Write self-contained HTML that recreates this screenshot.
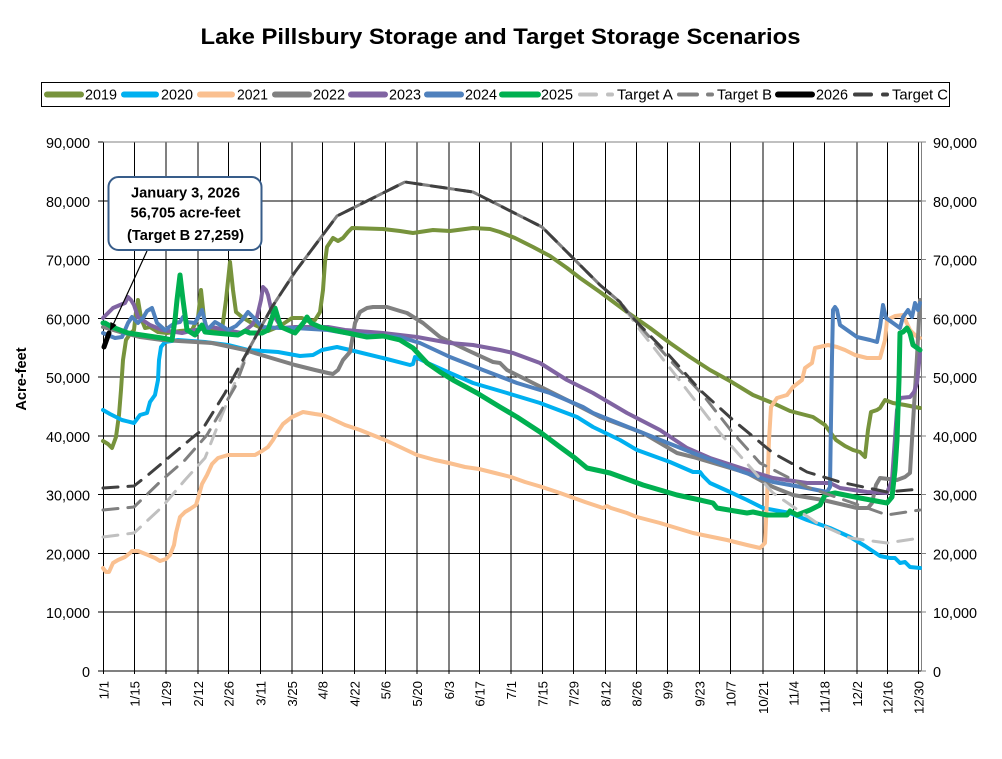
<!DOCTYPE html>
<html><head><meta charset="utf-8"><style>
html,body{margin:0;padding:0;background:#fff;}
svg{display:block;font-family:"Liberation Sans",Arial,sans-serif;}
</style></head><body>
<svg width="1002" height="759" viewBox="0 0 1002 759" xmlns="http://www.w3.org/2000/svg">
<rect width="1002" height="759" fill="#fff"/>
<text x="500.5" y="44" font-size="22" font-weight="bold" text-anchor="middle" textLength="600" lengthAdjust="spacingAndGlyphs">Lake Pillsbury Storage and Target Storage Scenarios</text>

<!-- legend -->
<rect x="41.5" y="82.5" width="908" height="24" fill="#fff" stroke="#000" stroke-width="1"/>
<g stroke-linecap="round" stroke-width="6" fill="none">
<line x1="47" y1="94.5" x2="81" y2="94.5" stroke="#77933C"/>
<line x1="124" y1="94.5" x2="156" y2="94.5" stroke="#00B0F0"/>
<line x1="200" y1="94.5" x2="232" y2="94.5" stroke="#FAC090"/>
<line x1="275" y1="94.5" x2="309" y2="94.5" stroke="#808080"/>
<line x1="351" y1="94.5" x2="385" y2="94.5" stroke="#8064A2"/>
<line x1="427" y1="94.5" x2="461" y2="94.5" stroke="#4F81BD"/>
<line x1="502" y1="94.5" x2="538" y2="94.5" stroke="#00B050"/>
<line x1="778" y1="94.5" x2="812" y2="94.5" stroke="#000"/>
</g>
<g stroke-linecap="round" stroke-width="4" fill="none">
<line x1="580" y1="94.5" x2="596" y2="94.5" stroke="#C0C0C0"/>
<line x1="608" y1="94.5" x2="612" y2="94.5" stroke="#C0C0C0"/>
<line x1="679" y1="94.5" x2="697" y2="94.5" stroke="#808080"/>
<line x1="708" y1="94.5" x2="712" y2="94.5" stroke="#808080"/>
<line x1="855" y1="94.5" x2="871" y2="94.5" stroke="#404040"/>
<line x1="883" y1="94.5" x2="887" y2="94.5" stroke="#404040"/>
</g>
<g font-size="14.4">
<text x="85" y="99.5" textLength="32" lengthAdjust="spacingAndGlyphs">2019</text>
<text x="161" y="99.5" textLength="32" lengthAdjust="spacingAndGlyphs">2020</text>
<text x="237" y="99.5" textLength="31" lengthAdjust="spacingAndGlyphs">2021</text>
<text x="313" y="99.5" textLength="32" lengthAdjust="spacingAndGlyphs">2022</text>
<text x="389" y="99.5" textLength="32" lengthAdjust="spacingAndGlyphs">2023</text>
<text x="465" y="99.5" textLength="32" lengthAdjust="spacingAndGlyphs">2024</text>
<text x="541" y="99.5" textLength="32" lengthAdjust="spacingAndGlyphs">2025</text>
<text x="617" y="99.5" textLength="56" lengthAdjust="spacingAndGlyphs">Target A</text>
<text x="717" y="99.5" textLength="55" lengthAdjust="spacingAndGlyphs">Target B</text>
<text x="816" y="99.5" textLength="32" lengthAdjust="spacingAndGlyphs">2026</text>
<text x="892" y="99.5" textLength="56" lengthAdjust="spacingAndGlyphs">Target C</text>
</g>

<!-- grid -->
<g stroke="#000" stroke-width="1" shape-rendering="crispEdges">
<line x1="98" y1="200.8" x2="921" y2="200.8"/>
<line x1="98" y1="259.6" x2="921" y2="259.6"/>
<line x1="98" y1="318.3" x2="921" y2="318.3"/>
<line x1="98" y1="377.1" x2="921" y2="377.1"/>
<line x1="98" y1="435.9" x2="921" y2="435.9"/>
<line x1="98" y1="494.7" x2="921" y2="494.7"/>
<line x1="98" y1="553.4" x2="921" y2="553.4"/>
<line x1="98" y1="612.2" x2="921" y2="612.2"/>
<line x1="98" y1="671" x2="921" y2="671"/>
<line x1="98" y1="142" x2="103" y2="142"/>
</g>
<g stroke="#000" stroke-width="1" shape-rendering="crispEdges">
<line x1="103.5" y1="142" x2="103.5" y2="674"/>
<line x1="134.5" y1="142" x2="134.5" y2="674"/>
<line x1="166" y1="142" x2="166" y2="674"/>
<line x1="198" y1="142" x2="198" y2="674"/>
<line x1="228.5" y1="142" x2="228.5" y2="674"/>
<line x1="260.5" y1="142" x2="260.5" y2="674"/>
<line x1="292" y1="142" x2="292" y2="674"/>
<line x1="322.5" y1="142" x2="322.5" y2="674"/>
<line x1="354.5" y1="142" x2="354.5" y2="674"/>
<line x1="385.5" y1="142" x2="385.5" y2="674"/>
<line x1="417" y1="142" x2="417" y2="674"/>
<line x1="449" y1="142" x2="449" y2="674"/>
<line x1="479.5" y1="142" x2="479.5" y2="674"/>
<line x1="511" y1="142" x2="511" y2="674"/>
<line x1="542.5" y1="142" x2="542.5" y2="674"/>
<line x1="573.5" y1="142" x2="573.5" y2="674"/>
<line x1="605.5" y1="142" x2="605.5" y2="674"/>
<line x1="636.5" y1="142" x2="636.5" y2="674"/>
<line x1="667.5" y1="142" x2="667.5" y2="674"/>
<line x1="699.5" y1="142" x2="699.5" y2="674"/>
<line x1="730.5" y1="142" x2="730.5" y2="674"/>
<line x1="763" y1="142" x2="763" y2="674"/>
<line x1="793.5" y1="142" x2="793.5" y2="674"/>
<line x1="824.5" y1="142" x2="824.5" y2="674"/>
<line x1="857" y1="142" x2="857" y2="674"/>
<line x1="887.5" y1="142" x2="887.5" y2="674"/>
<line x1="918.5" y1="142" x2="918.5" y2="674"/>
</g>
<g stroke="#808080" stroke-width="1" shape-rendering="crispEdges">
<line x1="103" y1="142" x2="926" y2="142"/>
<line x1="921.5" y1="142" x2="921.5" y2="671"/>
<line x1="921" y1="200.8" x2="926" y2="200.8"/>
<line x1="921" y1="259.6" x2="926" y2="259.6"/>
<line x1="921" y1="318.3" x2="926" y2="318.3"/>
<line x1="921" y1="377.1" x2="926" y2="377.1"/>
<line x1="921" y1="435.9" x2="926" y2="435.9"/>
<line x1="921" y1="494.7" x2="926" y2="494.7"/>
<line x1="921" y1="553.4" x2="926" y2="553.4"/>
<line x1="921" y1="612.2" x2="926" y2="612.2"/>
<line x1="921" y1="671" x2="926" y2="671"/>
</g>

<!-- y labels -->
<g font-size="14.4" text-anchor="end">
<text x="90" y="148">90,000</text>
<text x="90" y="206.8">80,000</text>
<text x="90" y="265.6">70,000</text>
<text x="90" y="324.3">60,000</text>
<text x="90" y="383.1">50,000</text>
<text x="90" y="441.9">40,000</text>
<text x="90" y="500.7">30,000</text>
<text x="90" y="559.4">20,000</text>
<text x="90" y="618.2">10,000</text>
<text x="90" y="677">0</text>
</g>
<g font-size="14.4" text-anchor="start">
<text x="933" y="148">90,000</text>
<text x="933" y="206.8">80,000</text>
<text x="933" y="265.6">70,000</text>
<text x="933" y="324.3">60,000</text>
<text x="933" y="383.1">50,000</text>
<text x="933" y="441.9">40,000</text>
<text x="933" y="500.7">30,000</text>
<text x="933" y="559.4">20,000</text>
<text x="933" y="618.2">10,000</text>
<text x="933" y="677">0</text>
</g>
<text transform="translate(20.5,379) rotate(-90)" font-size="14.6" font-weight="bold" text-anchor="middle" dy="0.36em">Acre-feet</text>

<!-- x labels -->
<g font-size="13.2" text-anchor="end">
<text transform="translate(103.5,681) rotate(-90)" dy="0.36em">1/1</text>
<text transform="translate(134.5,681) rotate(-90)" dy="0.36em">1/15</text>
<text transform="translate(166,681) rotate(-90)" dy="0.36em">1/29</text>
<text transform="translate(198,681) rotate(-90)" dy="0.36em">2/12</text>
<text transform="translate(228.5,681) rotate(-90)" dy="0.36em">2/26</text>
<text transform="translate(260.5,681) rotate(-90)" dy="0.36em">3/11</text>
<text transform="translate(292,681) rotate(-90)" dy="0.36em">3/25</text>
<text transform="translate(322.5,681) rotate(-90)" dy="0.36em">4/8</text>
<text transform="translate(354.5,681) rotate(-90)" dy="0.36em">4/22</text>
<text transform="translate(385.5,681) rotate(-90)" dy="0.36em">5/6</text>
<text transform="translate(417,681) rotate(-90)" dy="0.36em">5/20</text>
<text transform="translate(449,681) rotate(-90)" dy="0.36em">6/3</text>
<text transform="translate(479.5,681) rotate(-90)" dy="0.36em">6/17</text>
<text transform="translate(511,681) rotate(-90)" dy="0.36em">7/1</text>
<text transform="translate(542.5,681) rotate(-90)" dy="0.36em">7/15</text>
<text transform="translate(573.5,681) rotate(-90)" dy="0.36em">7/29</text>
<text transform="translate(605.5,681) rotate(-90)" dy="0.36em">8/12</text>
<text transform="translate(636.5,681) rotate(-90)" dy="0.36em">8/26</text>
<text transform="translate(667.5,681) rotate(-90)" dy="0.36em">9/9</text>
<text transform="translate(699.5,681) rotate(-90)" dy="0.36em">9/23</text>
<text transform="translate(730.5,681) rotate(-90)" dy="0.36em">10/7</text>
<text transform="translate(763,681) rotate(-90)" dy="0.36em">10/21</text>
<text transform="translate(793.5,681) rotate(-90)" dy="0.36em">11/4</text>
<text transform="translate(824.5,681) rotate(-90)" dy="0.36em">11/18</text>
<text transform="translate(857,681) rotate(-90)" dy="0.36em">12/2</text>
<text transform="translate(887.5,681) rotate(-90)" dy="0.36em">12/16</text>
<text transform="translate(918.5,681) rotate(-90)" dy="0.36em">12/30</text>
</g>

<!-- series -->
<g fill="none" stroke-linejoin="round" stroke-linecap="round" stroke-width="4">
<polyline stroke="#77933C" points="103,441 108,444 112,448 116,437 119,415 121,390 123,360 126,340 130,334 134,330 136,312 138,300 141,318 145,328 150,327 158,332 167,333 180,331 192,330 198,318 201,290 204,318 207,330 215,331 222,330 226,300 230,262 233,290 236,312 242,317 255,325 268,331 280,326 292,318 302,318 308,321 315,320 320,312 323,290 325,262 327,247 333,238 338,241 343,238 348,232 352,228 383,229 400,231 413,233 433,230 450,231 473,228 490,229 500,232 515,238 533,247 550,256 567,268 580,278 600,292 627,312 650,328 670,343 690,357 710,370 730,381 753,395 775,404 790,411 813,417 825,425 836,440 845,446 853,450 860,452 865,457 868,430 871,412 877,410 880,408 885,400 893,403 905,405 920,408"/>
<polyline stroke="#00B0F0" points="103,410 110,414 122,420 134,423 140,415 147,413 150,402 155,395 158,380 159,360 161,347 165,342 178,340 205,342 228,345 248,350 278,352 300,356 313,355 322,350 337,347 350,350 383,358 410,365 413,364 415,357 430,364 450,373 473,383 507,393 540,403 577,417 593,427 620,440 637,450 670,462 693,472 700,472 703,476 710,483 730,492 747,500 763,508 790,513 807,520 830,528 850,537 865,546 880,556 890,558 895,558 900,563 905,562 910,567 920,568"/>
<polyline stroke="#FAC090" points="103,568 106,572 109,572 113,563 118,560 125,557 130,553 132,551 138,551 148,555 155,558 160,561 166,559 170,555 174,545 176,533 180,517 185,512 190,509 196,505 199,495 202,484 207,475 212,464 218,458 228,455 255,455 262,451 268,447 273,440 277,433 283,424 292,417 303,412 315,414 322,415 330,418 345,425 360,430 385,440 400,447 417,455 435,460 449,463 465,467 479,469 495,473 511,477 525,482 542,487 560,493 585,502 603,508 607,506 611,508 627,513 637,517 660,523 693,533 727,540 747,545 760,548 765,543 767,500 769,440 771,407 777,398 787,395 793,387 802,380 805,368 812,363 815,348 828,345 837,347 845,350 855,355 867,358 880,358 885,340 887,320 895,316 903,315 910,330 917,337 920,338"/>
<polyline stroke="#808080" points="103,327 120,332 140,337 162,340 212,343 245,350 268,357 295,365 315,370 328,373 333,374 338,370 343,360 350,352 353,335 355,323 360,312 367,308 373,307 387,307 400,311 407,313 423,323 440,337 467,350 493,362 500,363 507,370 533,383 567,400 600,417 643,433 677,453 693,457 710,462 747,473 773,487 793,495 823,500 857,508 868,508 872,503 876,485 880,478 897,480 905,477 910,473 913,423 917,357 920,300"/>
<polyline stroke="#8064A2" points="103,318 108,313 113,308 120,305 125,303 128,297 131,300 134,305 138,317 150,325 162,330 182,333 195,330 212,327 225,330 242,333 252,325 257,317 261,300 263,287 266,290 268,295 272,313 282,328 295,327 328,327 345,330 383,333 417,337 450,343 473,345 500,350 513,353 540,363 567,380 593,393 627,413 660,430 687,448 710,458 747,470 773,478 807,483 830,483 840,488 867,492 887,493 892,480 897,410 900,398 910,397 914,392 917,383 920,353"/>
<polyline stroke="#4F81BD" points="103,333 110,336 115,338 122,337 128,323 132,317 135,320 138,323 143,318 147,311 152,308 157,323 165,330 175,323 180,322 183,317 187,322 195,323 202,310 207,330 215,322 222,326 228,330 236,326 242,320 248,312 253,317 262,327 280,328 295,328 328,330 345,333 366,335 400,337 420,343 450,357 483,370 517,383 550,393 583,407 593,413 643,433 693,453 743,472 773,482 807,488 827,492 830,487 831,420 832,357 833,310 835,307 837,310 840,325 857,337 870,340 877,342 880,327 883,305 886,318 893,323 900,328 903,317 908,310 912,317 915,303 918,310 920,303"/>
<polyline stroke="#00B050" stroke-width="5" points="103,323 105,323 112,327 128,333 162,338 172,340 175,320 177,300 180,275 183,300 187,330 195,335 202,325 205,332 215,333 238,335 245,331 250,333 262,333 268,330 272,318 275,308 278,318 281,327 295,333 300,327 304,322 307,317 311,323 320,327 333,330 367,337 383,336 400,340 413,348 427,363 440,372 453,380 477,393 500,407 517,417 540,432 560,447 575,458 587,468 610,473 643,485 677,495 700,500 713,503 717,508 747,513 753,512 767,515 787,515 790,511 797,515 810,510 820,505 825,495 835,493 860,498 887,503 892,497 895,470 897,440 899,380 900,333 903,332 907,328 910,333 913,345 920,350"/>
</g>
<g fill="none" stroke-linejoin="round" stroke-linecap="round" stroke-width="3" stroke-dasharray="15 10">
<polyline stroke="#C0C0C0" points="103,537 134,533 162,507 185,480 205,458 220,420 240,370 250,347 272,307 295,272 337,216 405,182 473,192 542,227 600,285 620,302 640,330 677,377 720,433 750,467 773,493 817,523 850,538 887,543 920,538"/>
<polyline stroke="#808080" points="103,510 134,507 162,480 185,460 207,435 235,387 250,347 272,307 295,272 337,216 405,182 473,192 542,227 600,285 620,302 637,323 670,360 703,395 733,433 760,463 807,487 850,502 887,515 920,510"/>
<line x1="104" y1="347" x2="109" y2="333" stroke="#000" stroke-width="5" stroke-dasharray="none"/>
<polyline stroke="#404040" points="103,488 134,486 148,475 167,459 192,438 202,430 225,393 232,380 250,347 272,307 295,272 337,216 405,182 473,192 542,227 600,285 620,302 627,312 667,353 700,390 733,420 773,453 807,472 840,482 887,492 920,489"/>
</g>

<!-- callout -->
<line x1="147" y1="251" x2="113" y2="325" stroke="#000" stroke-width="1.2"/>
<polygon points="110,331 110.5,322 116.5,325" fill="#000"/>
<rect x="108.5" y="177" width="153" height="73" rx="10" ry="10" fill="#fff" stroke="#385D8A" stroke-width="2"/>
<g font-size="14.6" font-weight="bold" text-anchor="middle">
<text x="185.5" y="197.5" textLength="109" lengthAdjust="spacingAndGlyphs">January 3, 2026</text>
<text x="185.5" y="217.5" textLength="110" lengthAdjust="spacingAndGlyphs">56,705 acre-feet</text>
<text x="185.5" y="240" textLength="117" lengthAdjust="spacingAndGlyphs">(Target B 27,259)</text>
</g>
</svg>
</body></html>
